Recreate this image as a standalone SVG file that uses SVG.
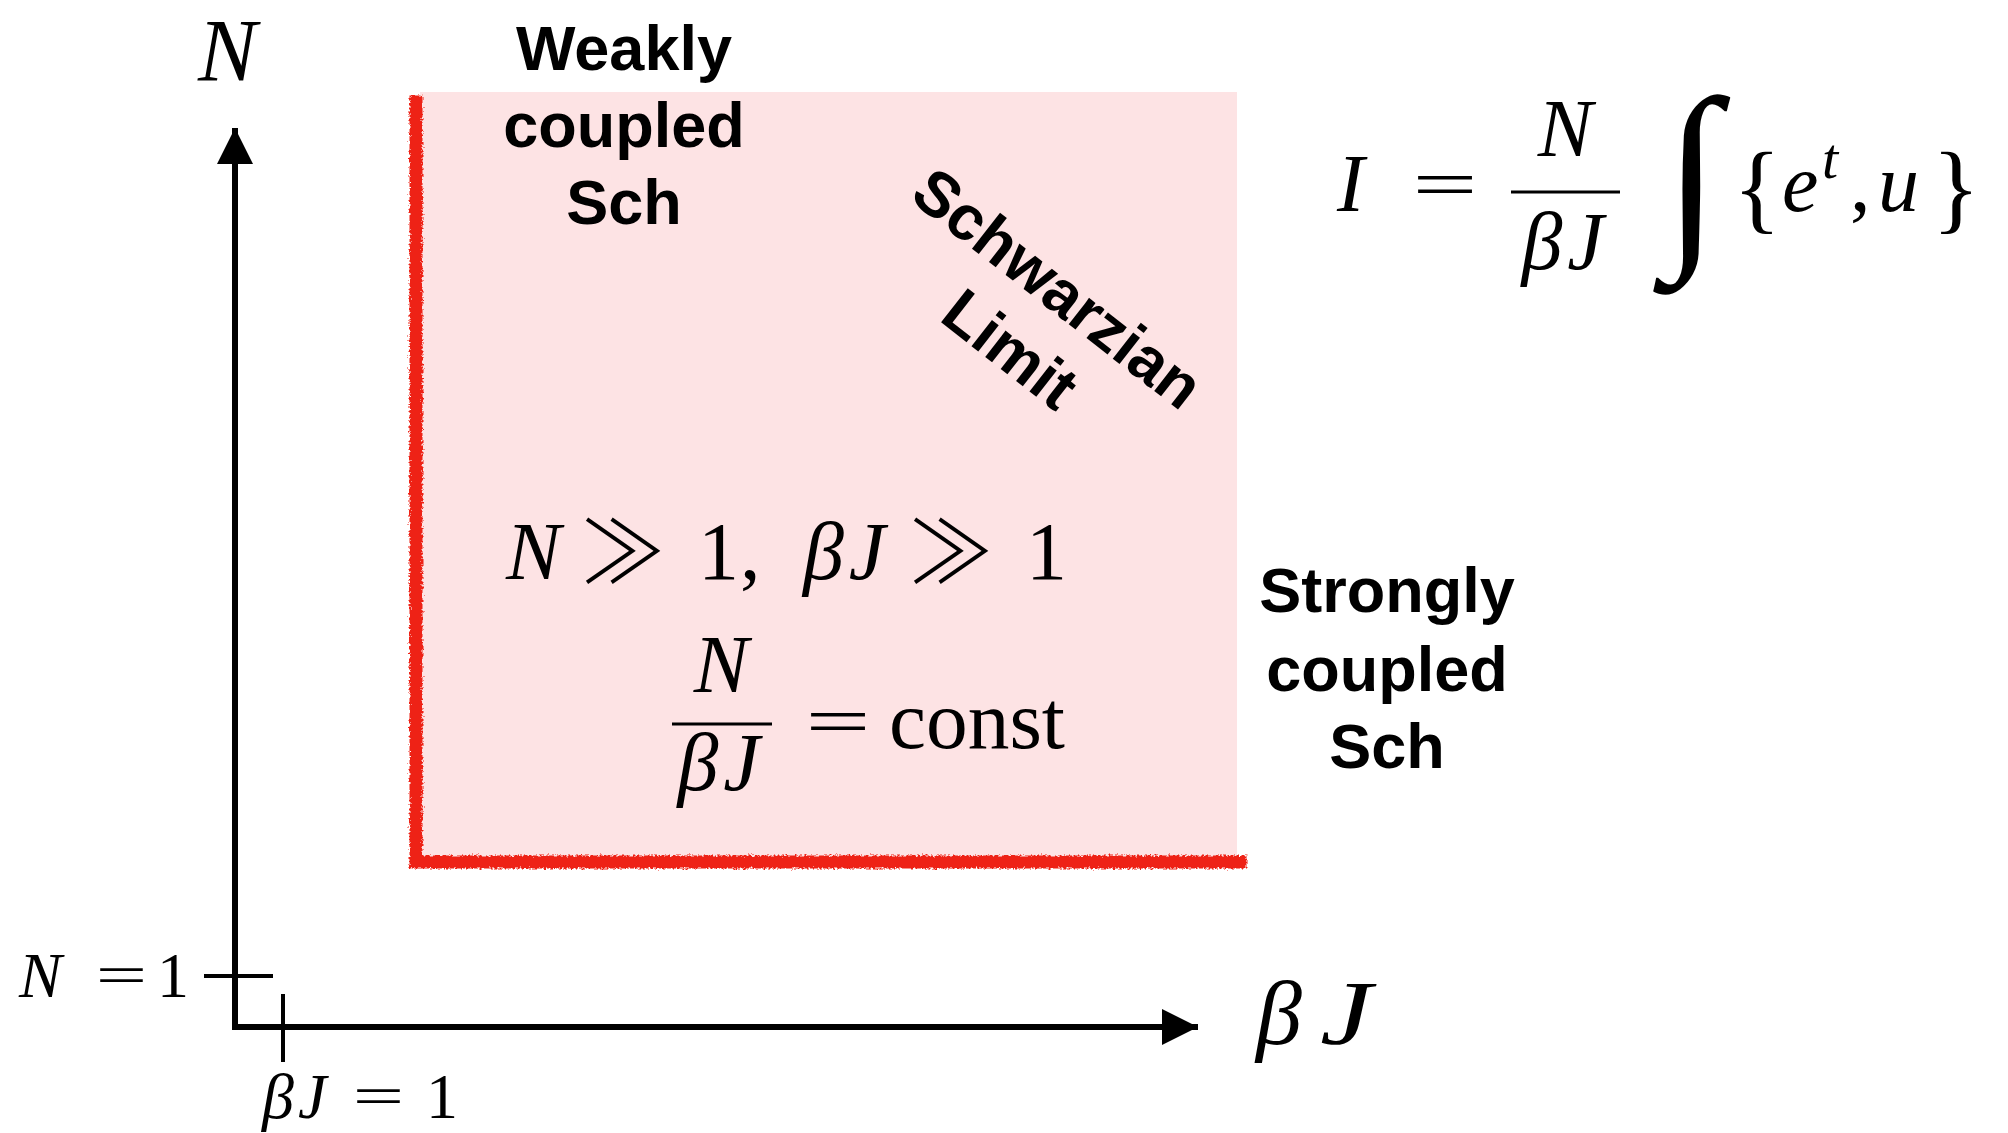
<svg xmlns="http://www.w3.org/2000/svg" width="2008" height="1133" viewBox="0 0 2008 1133">
<style>
.lbl{font-family:"Liberation Sans",Arial,sans-serif;font-weight:bold;font-size:63px;fill:#000;text-anchor:middle}
.m{font-family:"Liberation Serif","Times New Roman",serif;fill:#000}
.op{font-family:"DejaVu Sans","DejaVu Serif",sans-serif;font-weight:200;fill:#000}
.gg{font-family:"Noto Sans CJK JP","DejaVu Sans",sans-serif;font-weight:300;fill:#000}
.i{font-style:italic}
.axis{stroke:#000;stroke-width:6;fill:none}
.tick{stroke:#000;stroke-width:4;fill:none}
.red{stroke:#EE2412;stroke-width:13;fill:none;stroke-linecap:square}
.bar{stroke:#000;stroke-width:3}
</style>
<defs>
<marker id="ah" viewBox="0 0 10 10" refX="10" refY="5" markerWidth="6.3" markerHeight="6" markerUnits="strokeWidth" orient="auto">
<path d="M0,0 L10,5 L0,10 z" fill="#000"/>
</marker>
<filter id="rough" x="-5%" y="-5%" width="110%" height="110%">
<feTurbulence type="fractalNoise" baseFrequency="0.45" numOctaves="2" seed="4" result="n"/>
<feDisplacementMap in="SourceGraphic" in2="n" scale="6" xChannelSelector="R" yChannelSelector="G"/>
</filter>
</defs>
<rect width="2008" height="1133" fill="#fff"/>

<g id="region">
<rect x="420" y="92" width="817" height="769" fill="#FDE3E4"/>
<path class="red" d="M416,102 L416,862 L1240,862" filter="url(#rough)"/>
</g>

<g id="connectors">
<line class="axis" x1="235" y1="1030" x2="235" y2="128" marker-end="url(#ah)"/>
<line class="axis" x1="232" y1="1027" x2="1198" y2="1027" marker-end="url(#ah)"/>
<line class="tick" x1="204" y1="976" x2="273" y2="976"/>
<line class="tick" x1="283" y1="994" x2="283" y2="1062"/>
</g>

<g id="axis-labels">
<text class="m i" x="198" y="80" font-size="88">N</text>
<text class="m i" x="1256" y="1044" font-size="92">β</text>
<text class="m i" x="1320" y="1044" font-size="92" textLength="52" lengthAdjust="spacingAndGlyphs">J</text>
<text class="m i" x="19" y="997" font-size="64">N</text>
<text class="op" x="93" y="997" font-size="68">=</text>
<text class="m" x="157" y="997" font-size="64">1</text>
<text class="m i" x="262" y="1118" font-size="64" letter-spacing="4">βJ</text>
<text class="op" x="350" y="1118" font-size="68">=</text>
<text class="m" x="426" y="1118" font-size="64">1</text>
</g>

<g id="weakly">
<text class="lbl" x="624" y="70">Weakly</text>
<text class="lbl" x="624" y="147">coupled</text>
<text class="lbl" x="624" y="224">Sch</text>
</g>

<g id="strongly">
<text class="lbl" x="1387" y="612">Strongly</text>
<text class="lbl" x="1387" y="691">coupled</text>
<text class="lbl" x="1387" y="768">Sch</text>
</g>

<g id="schwarzian" transform="translate(1058,288) rotate(38)">
<text class="lbl" x="0" y="22">Schwarzian</text>
<text class="lbl" x="0" y="99">Limit</text>
</g>

<g id="conditions">
<text class="m i" x="506" y="579" font-size="82">N</text>
<text class="gg" x="580" y="583" font-size="86">≫</text>
<text class="m" x="698" y="579" font-size="82">1</text>
<text class="m" x="740" y="579" font-size="82">,</text>
<text class="m i" x="803" y="579" font-size="82" letter-spacing="5">βJ</text>
<text class="gg" x="908" y="583" font-size="86">≫</text>
<text class="m" x="1026" y="579" font-size="82">1</text>
<text class="m i" x="721" y="692" font-size="82" text-anchor="middle">N</text>
<line class="bar" x1="672" y1="724" x2="772" y2="724"/>
<text class="m i" x="721" y="790" font-size="82" text-anchor="middle" letter-spacing="5">βJ</text>
<text class="op" x="802" y="748" font-size="86">=</text>
<text class="m" x="889" y="748" font-size="82" textLength="176" lengthAdjust="spacingAndGlyphs">const</text>
</g>

<g id="action">
<text class="m" y="211" font-size="82"><tspan class="i" x="1337">I</tspan><tspan class="op" x="1409" font-size="86">=</tspan></text>
<text class="m i" x="1565" y="156" font-size="82" text-anchor="middle">N</text>
<line class="bar" x1="1511" y1="192" x2="1620" y2="192"/>
<text class="m i" x="1565" y="269" font-size="82" text-anchor="middle" letter-spacing="5">βJ</text>
<text class="m" x="1664" y="240" font-size="204">∫</text>
<text class="m" font-size="82"><tspan x="1733" y="221" font-size="100">{</tspan><tspan class="i" x="1782" y="211">e</tspan><tspan class="i" x="1822" y="178" font-size="58">t</tspan><tspan x="1850" y="211">,</tspan><tspan class="i" x="1878" y="211">u</tspan><tspan x="1932" y="221" font-size="100">}</tspan></text>
</g>
</svg>
